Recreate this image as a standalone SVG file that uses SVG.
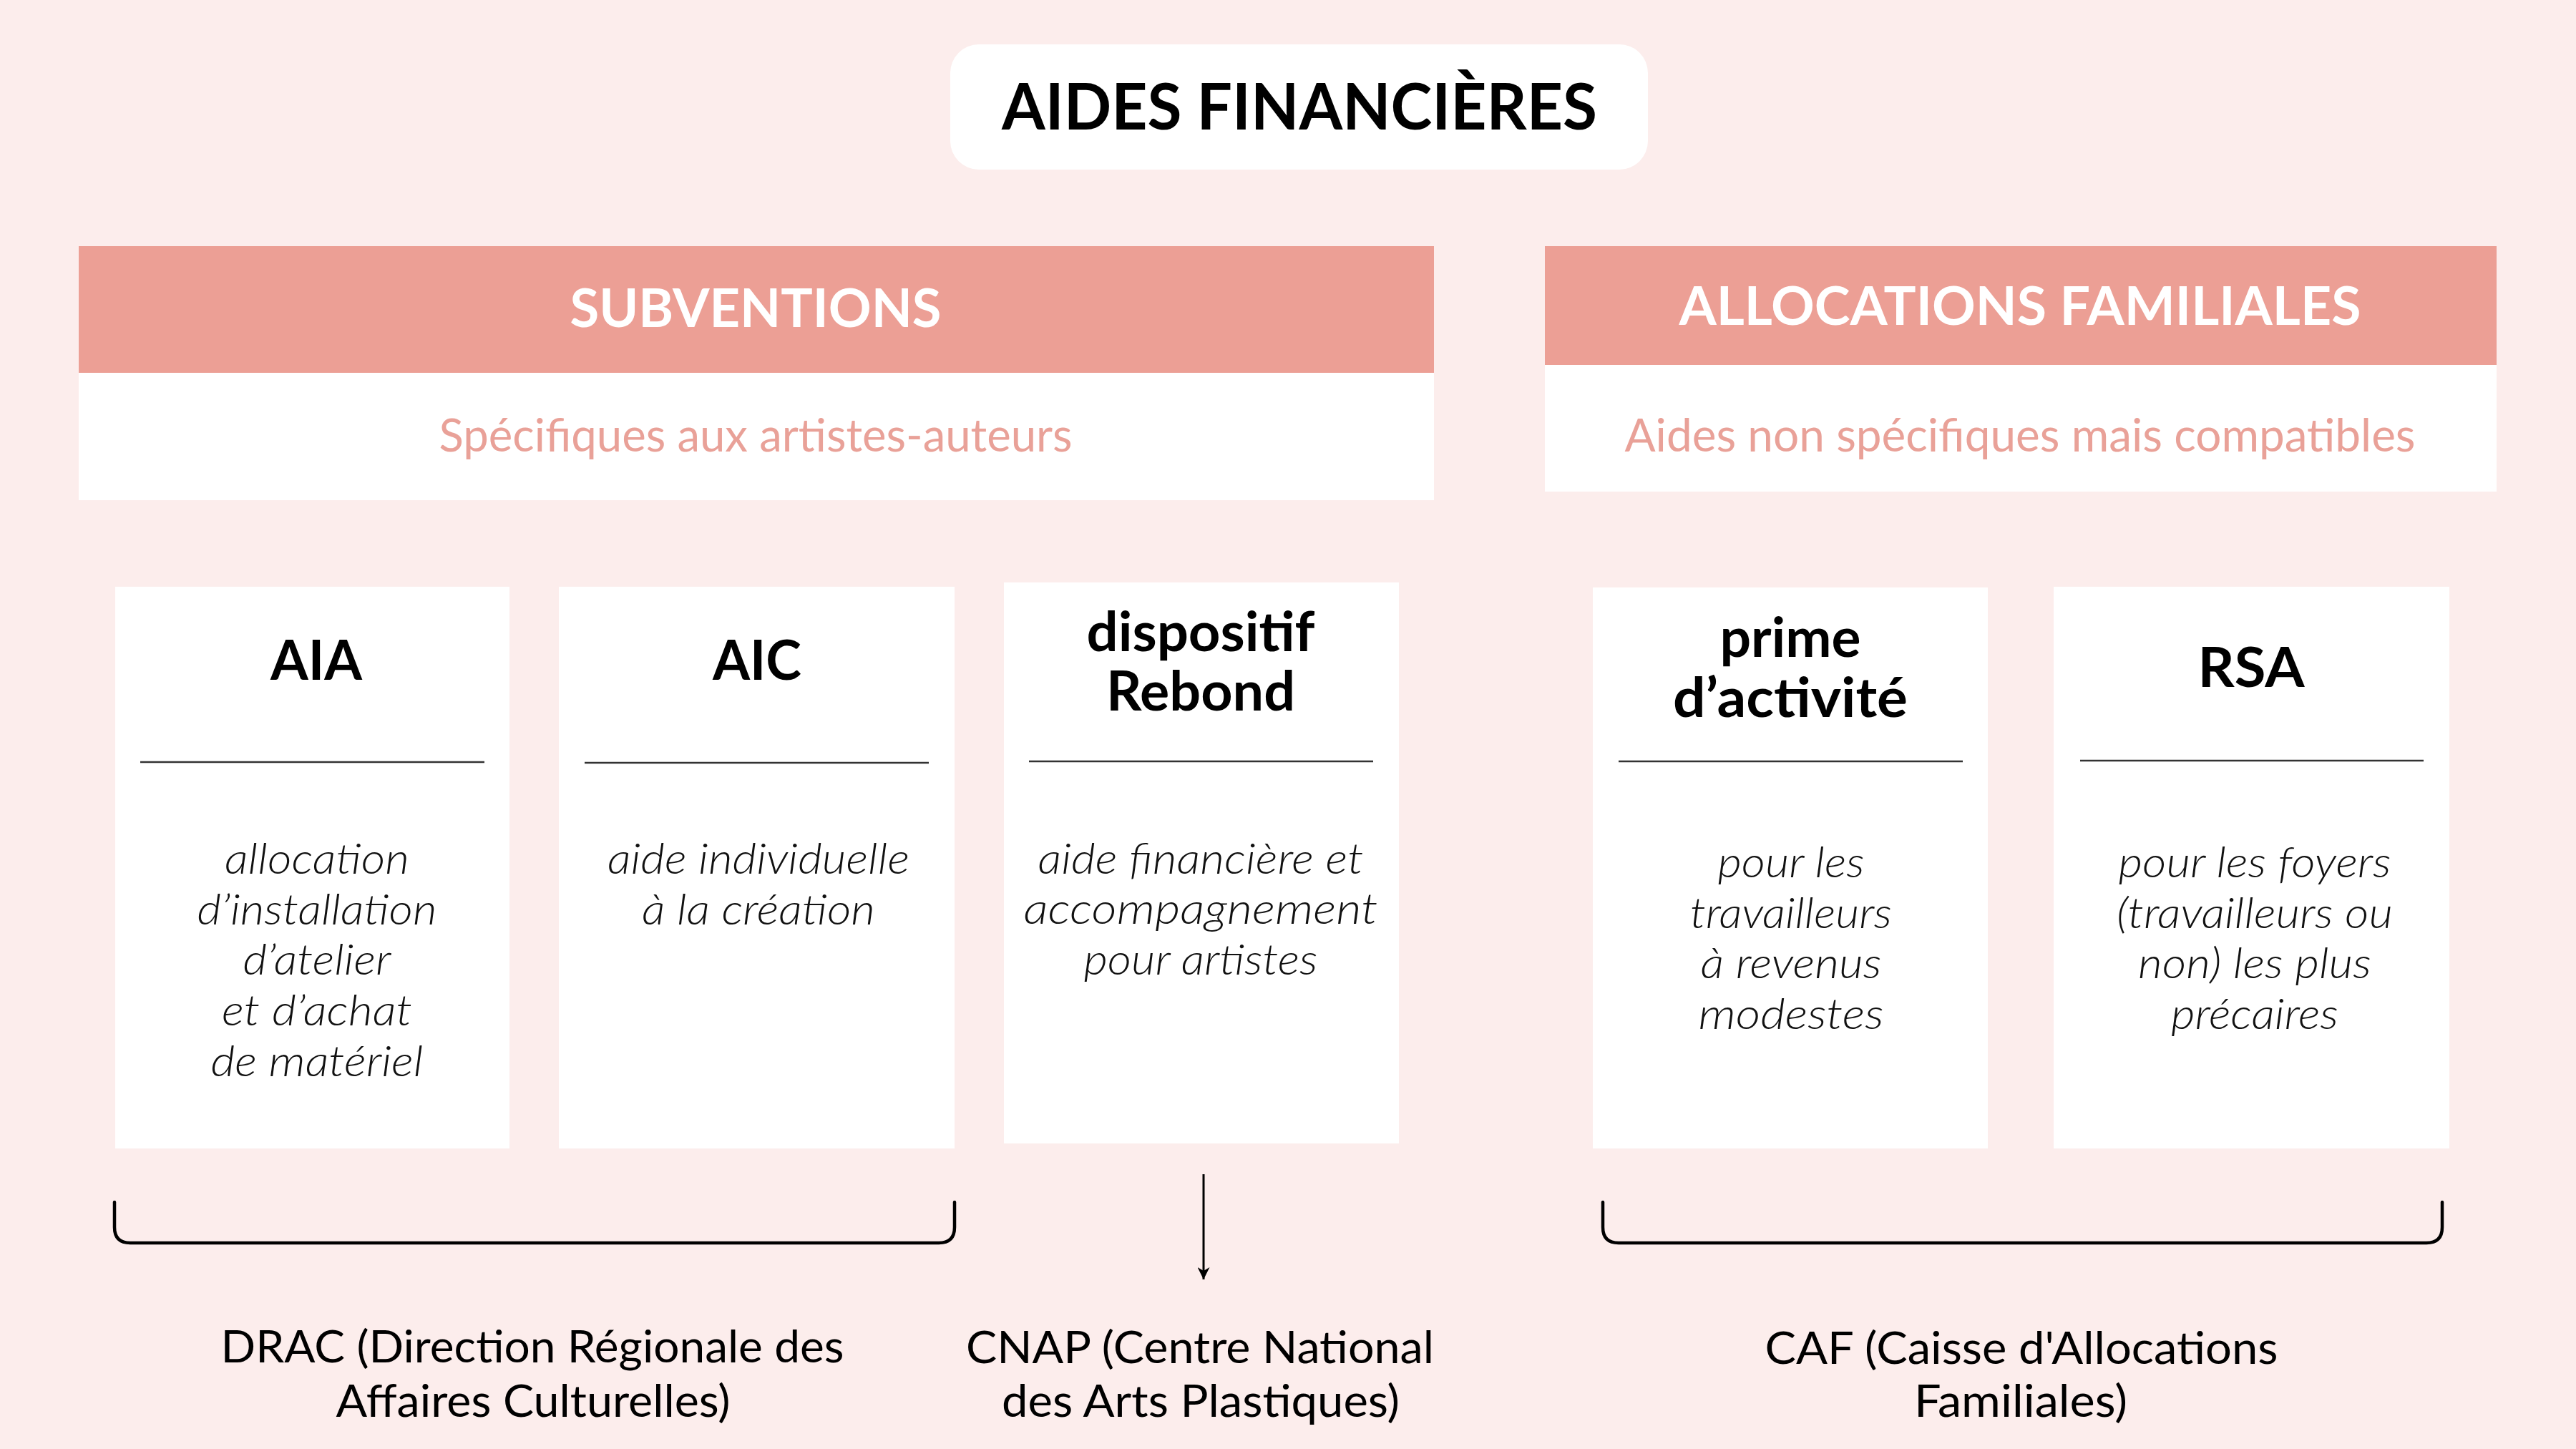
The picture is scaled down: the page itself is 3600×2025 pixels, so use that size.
<svg xmlns="http://www.w3.org/2000/svg" width="3600" height="2025" viewBox="0 0 3600 2025">
<defs>
<style>
.t{font-family:Lato,"Noto Sans","Liberation Sans",sans-serif;text-anchor:middle}
.title{font-size:90px;font-weight:700;fill:#000}
.head{font-size:75px;font-weight:700;fill:#fff}
.sub{font-size:64px;font-weight:400;fill:#E9A198}
.ct{font-size:77px;font-weight:700;fill:#000}
.cd{font-size:60px;font-weight:300;font-style:italic;fill:#111}
.lbl{font-size:61px;font-weight:400;fill:#000}
.card{fill:#fff}
.div{stroke:#333;stroke-width:2.5}
.brace{fill:none;stroke:#000;stroke-width:4.5;stroke-linecap:round}
</style>
<marker id="ah" viewBox="0 0 10 10" refX="10" refY="5" markerWidth="17" markerHeight="17" markerUnits="userSpaceOnUse" orient="auto">
<path d="M0,0 L10,5 L0,10 L3,5 Z" fill="#000"/>
</marker>
</defs>
<rect x="0" y="0" width="3600" height="2025" fill="#FCEDEC"/>

<g id="title">
<rect x="1328" y="62" width="975" height="175" rx="40" fill="#fff"/>
<text class="t title" x="1816" y="181" textLength="832" lengthAdjust="spacingAndGlyphs">AIDES FINANCIÈRES</text>
</g>

<g id="subventions">
<rect x="110" y="344" width="1894" height="177" fill="#EC9F95"/>
<rect x="110" y="521" width="1894" height="178" fill="#fff"/>
<text class="t head" x="1056" y="457" textLength="519" lengthAdjust="spacingAndGlyphs">SUBVENTIONS</text>
<text class="t sub" x="1056" y="631" textLength="885" lengthAdjust="spacingAndGlyphs">Spécifiques aux artistes-auteurs</text>
</g>

<g id="allocations">
<rect x="2159" y="344" width="1330" height="166" fill="#EC9F95"/>
<rect x="2159" y="510" width="1330" height="177" fill="#fff"/>
<text class="t head" x="2823" y="454" textLength="953" lengthAdjust="spacingAndGlyphs">ALLOCATIONS FAMILIALES</text>
<text class="t sub" x="2823" y="631" textLength="1105" lengthAdjust="spacingAndGlyphs">Aides non spécifiques mais compatibles</text>
</g>

<g id="aia">
<rect class="card" x="161" y="820" width="551" height="785"/>
<text class="t ct" x="442" y="950" textLength="128" lengthAdjust="spacingAndGlyphs">AIA</text>
<line class="div" x1="196" y1="1065" x2="677" y2="1065"/>
<text class="t cd" x="443" y="1221" textLength="258" lengthAdjust="spacingAndGlyphs">allocation</text>
<text class="t cd" x="443" y="1292" textLength="335" lengthAdjust="spacingAndGlyphs">d’installation</text>
<text class="t cd" x="443" y="1362" textLength="207" lengthAdjust="spacingAndGlyphs">d’atelier</text>
<text class="t cd" x="443" y="1433" textLength="266" lengthAdjust="spacingAndGlyphs">et d’achat</text>
<text class="t cd" x="443" y="1504" textLength="297" lengthAdjust="spacingAndGlyphs">de matériel</text>
</g>

<g id="aic">
<rect class="card" x="781" y="820" width="553" height="785"/>
<text class="t ct" x="1058" y="950" textLength="124" lengthAdjust="spacingAndGlyphs">AIC</text>
<line class="div" x1="817" y1="1066" x2="1298" y2="1066"/>
<text class="t cd" x="1060" y="1221" textLength="422" lengthAdjust="spacingAndGlyphs">aide individuelle</text>
<text class="t cd" x="1060" y="1292" textLength="326" lengthAdjust="spacingAndGlyphs">à la création</text>
</g>

<g id="rebond">
<rect class="card" x="1403" y="814" width="552" height="784"/>
<text class="t ct" x="1678" y="910" textLength="319" lengthAdjust="spacingAndGlyphs">dispositif</text>
<text class="t ct" x="1678" y="993" textLength="264" lengthAdjust="spacingAndGlyphs">Rebond</text>
<line class="div" x1="1438" y1="1064" x2="1919" y2="1064"/>
<text class="t cd" x="1678" y="1221" textLength="455" lengthAdjust="spacingAndGlyphs">aide financière et</text>
<text class="t cd" x="1678" y="1291" textLength="495" lengthAdjust="spacingAndGlyphs">accompagnement</text>
<text class="t cd" x="1678" y="1362" textLength="327" lengthAdjust="spacingAndGlyphs">pour artistes</text>
</g>

<g id="prime">
<rect class="card" x="2226" y="821" width="552" height="784"/>
<text class="t ct" x="2502" y="918" textLength="197" lengthAdjust="spacingAndGlyphs">prime</text>
<text class="t ct" x="2502" y="1002" textLength="328" lengthAdjust="spacingAndGlyphs">d’activité</text>
<line class="div" x1="2262" y1="1064" x2="2743" y2="1064"/>
<text class="t cd" x="2503" y="1226" textLength="205" lengthAdjust="spacingAndGlyphs">pour les</text>
<text class="t cd" x="2503" y="1297" textLength="282" lengthAdjust="spacingAndGlyphs">travailleurs</text>
<text class="t cd" x="2503" y="1367" textLength="253" lengthAdjust="spacingAndGlyphs">à revenus</text>
<text class="t cd" x="2503" y="1438" textLength="259" lengthAdjust="spacingAndGlyphs">modestes</text>
</g>

<g id="rsa">
<rect class="card" x="2870" y="820" width="553" height="785"/>
<text class="t ct" x="3146" y="960" textLength="149" lengthAdjust="spacingAndGlyphs">RSA</text>
<line class="div" x1="2907" y1="1063" x2="3387" y2="1063"/>
<text class="t cd" x="3151" y="1226" textLength="381" lengthAdjust="spacingAndGlyphs">pour les foyers</text>
<text class="t cd" x="3151" y="1297" textLength="386" lengthAdjust="spacingAndGlyphs">(travailleurs ou</text>
<text class="t cd" x="3151" y="1367" textLength="326" lengthAdjust="spacingAndGlyphs">non) les plus</text>
<text class="t cd" x="3151" y="1438" textLength="234" lengthAdjust="spacingAndGlyphs">précaires</text>
</g>

<g id="connectors">
<path class="brace" d="M160,1680 V1715 Q160,1737 182,1737 H1312 Q1334,1737 1334,1715 V1680"/>
<path class="brace" d="M2240,1680 V1715 Q2240,1737 2262,1737 H3391 Q3413,1737 3413,1715 V1680"/>
<line x1="1682" y1="1641" x2="1682" y2="1788" stroke="#000" stroke-width="3" marker-end="url(#ah)"/>
</g>

<g id="drac">
<text class="t lbl" x="744" y="1904" textLength="871" lengthAdjust="spacingAndGlyphs">DRAC (Direction Régionale des</text>
<text class="t lbl" x="745" y="1980" textLength="551" lengthAdjust="spacingAndGlyphs">Affaires Culturelles)</text>
</g>

<g id="cnap">
<text class="t lbl" x="1677" y="1905" textLength="654" lengthAdjust="spacingAndGlyphs">CNAP (Centre National</text>
<text class="t lbl" x="1678" y="1980" textLength="556" lengthAdjust="spacingAndGlyphs">des Arts Plastiques)</text>
</g>

<g id="caf">
<text class="t lbl" x="2825" y="1906" textLength="717" lengthAdjust="spacingAndGlyphs">CAF (Caisse d'Allocations</text>
<text class="t lbl" x="2824" y="1980" textLength="298" lengthAdjust="spacingAndGlyphs">Familiales)</text>
</g>
</svg>
